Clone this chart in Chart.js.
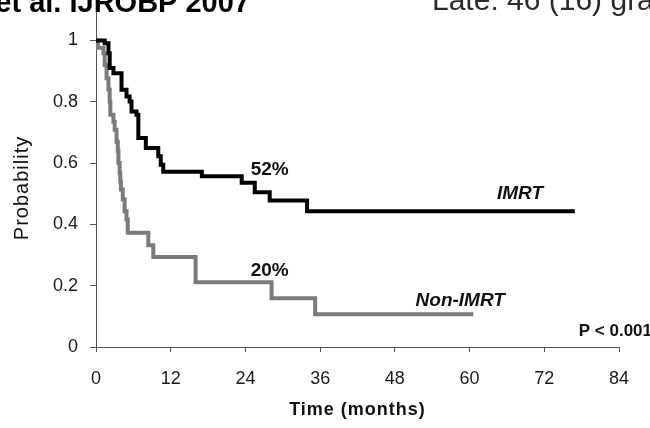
<!DOCTYPE html>
<html>
<head>
<meta charset="utf-8">
<script src="https://cdn.jsdelivr.net/npm/chart.js@4/dist/chart.umd.min.js"></script>
<style>
  html, body { margin: 0; padding: 0; background: #ffffff; }
  #wrap { position: relative; width: 650px; height: 428px; overflow: hidden; }
  canvas { display: block; }
</style>
</head>
<body>
<div id="wrap"><canvas id="c" width="650" height="428"></canvas></div>
<script>
// ---- Data (Kaplan-Meier step points: time of drop, new survival level) ----
const imrtTimes = [0, 1.4, 2.0, 2.2, 2.8, 4.1, 4.9, 5.4, 5.7, 6.5, 6.8, 8.0, 10.0, 10.4, 10.8, 17.0, 23.4, 25.5, 27.9, 33.9, 76.9];
const imrtSurv  = [1.0, 0.991, 0.958, 0.910, 0.893, 0.839, 0.817, 0.801, 0.768, 0.758, 0.682, 0.649, 0.622, 0.595, 0.572, 0.557, 0.536, 0.505, 0.478, 0.443, 0.443];

const nonTimes = [0, 0.3, 1.2, 1.4, 1.7, 2.0, 2.2, 2.3, 2.8, 3.0, 3.3, 3.5, 3.6, 3.8, 3.9, 4.0, 4.3, 4.6, 4.9, 5.1, 8.4, 9.2, 16.0, 28.2, 35.2, 60.6];
const nonSurv  = [1.0, 0.976, 0.958, 0.920, 0.877, 0.840, 0.800, 0.758, 0.735, 0.709, 0.670, 0.640, 0.600, 0.567, 0.540, 0.514, 0.481, 0.443, 0.416, 0.373, 0.332, 0.294, 0.211, 0.159, 0.107, 0.107];

const xTicks = [0, 12, 24, 36, 48, 60, 72, 84];
const yTicks = [0, 0.2, 0.4, 0.6, 0.8, 1];

const seriesNames = ['IMRT', 'Non-IMRT'];
const pctLabels = ['52%', '20%'];
const pValue = 'P < 0.001';
const xTitle = 'Time (months)';
const yTitle = 'Probability';
const headerLeft = 'et al. IJROBP 2007';
const headerRight = 'Late: 46 (16) gra';

// ---- Build datasets ----
function toPoints(ts, vs) { return ts.map((t, i) => ({ x: t, y: vs[i] })); }

const FONT = "'Liberation Sans', Arial, sans-serif";

const annotPlugin = {
  id: 'annot',
  afterDraw(chart) {
    const ctx = chart.ctx;
    const xs = chart.scales.x, ys = chart.scales.y;
    ctx.save();
    ctx.fillStyle = '#111';
    ctx.textAlign = 'center';
    ctx.textBaseline = 'middle';
    // percentage labels
    ctx.font = "bold 19px " + FONT;
    ctx.fillText(pctLabels[0], xs.getPixelForValue(27.9), ys.getPixelForValue(0.578));
    ctx.fillText(pctLabels[1], xs.getPixelForValue(27.9), ys.getPixelForValue(0.248));
    // series names
    ctx.font = "italic bold 19px " + FONT;
    ctx.fillText(seriesNames[0], xs.getPixelForValue(68.1), ys.getPixelForValue(0.5));
    ctx.fillText(seriesNames[1], xs.getPixelForValue(58.5), ys.getPixelForValue(0.15));
    // p-value
    ctx.font = "bold 17px " + FONT;
    ctx.textAlign = 'right';
    ctx.fillText(pValue, 652, ys.getPixelForValue(0.05));
    // axis titles
    ctx.textAlign = 'center';
    ctx.font = "bold 18px " + FONT;
    if ('letterSpacing' in ctx) ctx.letterSpacing = '1px';
    ctx.fillText(xTitle, (chart.chartArea.left + chart.chartArea.right) / 2, 410);
    ctx.save();
    ctx.translate(22, 188);
    ctx.rotate(-Math.PI / 2);
    ctx.font = "20px " + FONT;
    ctx.fillText(yTitle, 0, 0);
    ctx.restore();
    if ('letterSpacing' in ctx) ctx.letterSpacing = '0px';
    // header texts (cropped at the top of the picture)
    ctx.textBaseline = 'alphabetic';
    ctx.textAlign = 'right';
    ctx.font = "bold 29px " + FONT;
    ctx.fillStyle = '#000';
    ctx.fillText(headerLeft, 250, 12);
    ctx.textAlign = 'left';
    ctx.font = "30px " + FONT;
    ctx.fillStyle = '#2a2a2a';
    ctx.fillText(headerRight, 432, 10);
    ctx.restore();
  }
};

const PLOT_BOTTOM = 347, PLOT_TOP = 12, Y1_PIX = 40.5;
const yMax = 1 + (Y1_PIX - PLOT_TOP) / (PLOT_BOTTOM - Y1_PIX);

new Chart(document.getElementById('c'), {
  type: 'line',
  data: {
    datasets: [
      {
        label: seriesNames[0],
        data: toPoints(imrtTimes, imrtSurv),
        borderColor: '#000000',
        borderWidth: 4,
        stepped: 'before',
        pointRadius: 0,
        fill: false,
        borderCapStyle: 'butt',
        borderJoinStyle: 'miter'
      },
      {
        label: seriesNames[1],
        data: toPoints(nonTimes, nonSurv),
        borderColor: '#7b7b7b',
        borderWidth: 4,
        stepped: 'before',
        pointRadius: 0,
        fill: false,
        borderCapStyle: 'butt',
        borderJoinStyle: 'miter'
      }
    ]
  },
  options: {
    responsive: false,
    animation: false,
    devicePixelRatio: 1,
    layout: { padding: { top: PLOT_TOP, right: 31, left: 0, bottom: 0 } },
    plugins: { legend: { display: false }, tooltip: { enabled: false } },
    scales: {
      x: {
        type: 'linear',
        min: xTicks[0],
        max: xTicks[xTicks.length - 1],
        afterFit(scale) { scale.height = 428 - PLOT_BOTTOM; scale.paddingLeft = 0; scale.paddingRight = 0; },
        afterBuildTicks(scale) { scale.ticks = xTicks.map(v => ({ value: v })); },
        ticks: {
          font: { family: FONT, size: 18 },
          color: '#1a1a1a',
          padding: 16,
          maxRotation: 0,
          callback: v => String(v)
        },
        grid: { drawOnChartArea: false, drawTicks: true, tickLength: 5, color: '#555', lineWidth: 1 },
        border: { display: true, color: '#555', width: 1 }
      },
      y: {
        type: 'linear',
        min: 0,
        max: yMax,
        afterFit(scale) { scale.width = 96; scale.paddingTop = 0; scale.paddingBottom = 0; },
        afterBuildTicks(scale) { scale.ticks = yTicks.map(v => ({ value: v })); },
        ticks: {
          font: { family: FONT, size: 18 },
          color: '#1a1a1a',
          padding: 12,
          callback: v => String(Math.round(v * 10) / 10)
        },
        grid: { drawOnChartArea: false, drawTicks: true, tickLength: 6, color: '#555', lineWidth: 1 },
        border: { display: true, color: '#555', width: 1 }
      }
    }
  },
  plugins: [annotPlugin]
});
</script>
</body>
</html>
